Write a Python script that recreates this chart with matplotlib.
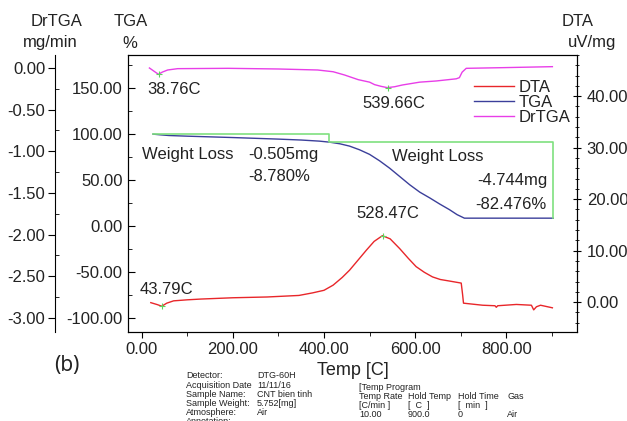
import numpy as np
import matplotlib.pyplot as plt
from matplotlib.ticker import MultipleLocator, FormatStrFormatter

plt.rcParams['font.family'] = ['Liberation Sans', 'DejaVu Sans']

# --- data ---
dta_t = [20, 35, 44, 55, 70, 100, 130, 200, 275, 345, 375, 400, 420, 440, 456, 475,
         493, 510, 528, 545, 566, 585, 602, 620, 638, 655, 675, 701, 704, 706, 748,
         775, 778, 781, 822, 855, 860, 866, 875, 901]
dta_v = [-0.1, -0.5, -0.8, -0.2, 0.25, 0.45, 0.6, 0.85, 1.0, 1.3, 1.8, 2.3, 3.3, 4.8,
         6.2, 8.2, 10.1, 11.8, 12.9, 12.3, 10.4, 8.5, 6.9, 5.8, 4.9, 4.4, 4.1, 3.7,
         1.5, -0.2, -0.6, -0.7, -1.0, -0.7, -0.45, -0.6, -1.5, -0.9, -0.6, -1.1]

tga_t = [25, 40, 60, 100, 200, 300, 350, 390, 412, 435, 456, 478, 500, 522, 544, 566,
         588, 610, 632, 654, 675, 692, 708, 903]
tga_v = [100, 99.3, 98.5, 97.8, 96.3, 94.6, 93.6, 92.4, 91.3, 89.5, 87, 83, 78, 71,
         63, 54, 45, 37, 30.7, 24, 18, 12.5, 8.7, 8.7]

dr_t = [17, 30, 37, 45, 57, 79, 190, 300, 386, 420, 445, 475, 500, 511, 525, 539, 555,
        572, 610, 646, 690, 697, 703, 712, 792, 901]
dr_v = [0.0, -0.05, -0.076, -0.05, -0.024, -0.008, -0.004, -0.012, -0.024, -0.045,
        -0.084, -0.14, -0.17, -0.2, -0.22, -0.236, -0.225, -0.204, -0.17, -0.156,
        -0.13, -0.116, -0.05, -0.004, 0.004, 0.016]

step_t = [25, 412, 412, 903, 903]
step_v = [100, 100, 91.3, 91.3, 8.7]

peaks_dta = [(43.79, -0.8), (528.47, 12.9)]
peaks_dr = [(38.76, -0.076), (539.66, -0.236)]

fig = plt.figure(figsize=(6.27, 4.21), dpi=100)
W, H = 627., 421.
ax = fig.add_axes([128/W, 1-332/H, (577-128)/W, (332-55)/H])
ax_dta = ax.twinx()
ax_dr = ax.twinx()

txt = '#222222'
fs = 12

# TGA (host axis)
ax.plot(tga_t, tga_v, color='#3b3f9a', lw=1)
ax.plot(step_t, step_v, color='#7fe07f', lw=1.2)
ax.set_xlim(-30, 955)
ax.set_ylim(-115, 186)
ax.yaxis.set_major_locator(MultipleLocator(50))
ax.yaxis.set_minor_locator(MultipleLocator(25))
ax.xaxis.set_major_locator(MultipleLocator(200))
ax.xaxis.set_minor_locator(MultipleLocator(100))
ax.xaxis.set_major_formatter(FormatStrFormatter('%.2f'))
ax.yaxis.set_major_formatter(FormatStrFormatter('%.2f'))
ax.tick_params(axis='y', which='both', direction='in', labelsize=fs, labelcolor=txt, pad=4)
ax.tick_params(axis='y', which='major', length=5)
ax.tick_params(axis='y', which='minor', length=3)
ax.tick_params(axis='x', which='both', direction='out', labelsize=fs, labelcolor=txt)
ax.tick_params(axis='x', which='major', length=4)
ax.tick_params(axis='x', which='minor', length=3)
ax.set_xlabel('Temp [C]', fontsize=fs + 1, color=txt, labelpad=3)

# DTA (right axis)
l_dta, = ax_dta.plot(dta_t, dta_v, color='#e8262a', lw=1)
ax_dta.set_ylim(-5.8, 48)
ax_dta.yaxis.set_major_locator(MultipleLocator(10))
ax_dta.yaxis.set_minor_locator(MultipleLocator(2))
ax_dta.yaxis.set_major_formatter(FormatStrFormatter('%.2f'))
ax_dta.tick_params(axis='y', which='both', direction='inout', labelsize=fs, labelcolor=txt, pad=4)
ax_dta.tick_params(axis='y', which='major', length=6)
ax_dta.tick_params(axis='y', which='minor', length=3)

# DrTGA (outer left axis)
ax_dr.plot(dr_t, dr_v, color='#e83ee8', lw=1)
ax_dr.set_ylim(-3.17, 0.156)
ax_dr.spines['left'].set_position(('axes', (55-128)/449.))
ax_dr.spines['left'].set_visible(True)
for s in ['right', 'top', 'bottom']:
    ax_dr.spines[s].set_visible(False)
ax_dr.yaxis.set_label_position('left')
ax_dr.yaxis.set_ticks_position('left')
ax_dr.yaxis.set_major_locator(MultipleLocator(0.5))
ax_dr.yaxis.set_minor_locator(MultipleLocator(0.25))
ax_dr.yaxis.set_major_formatter(FormatStrFormatter('%.2f'))
ax_dr.tick_params(axis='y', which='major', direction='out', length=5, labelsize=fs, labelcolor=txt, pad=2)
ax_dr.tick_params(axis='y', which='minor', direction='in', length=3)

# green peak markers
for t, v in peaks_dta:
    ax_dta.plot(t, v, marker='+', color='#5fd35f', ms=5, mew=0.8)
for t, v in peaks_dr:
    ax_dr.plot(t, v, marker='+', color='#5fd35f', ms=5, mew=0.8)

# legend
l_tga, = ax.plot([], [], color='#3b3f9a', lw=1)
l_dr, = ax.plot([], [], color='#e83ee8', lw=1)
ax.legend([l_dta, l_tga, l_dr], ['DTA', 'TGA', 'DrTGA'], loc='upper left',
          bbox_to_anchor=((474-128)/449., 1-(80-55)/277.), frameon=False, fontsize=fs,
          handlelength=2.4, handletextpad=0.3, labelspacing=0.0, borderpad=0,
          borderaxespad=0, labelcolor=txt)

# annotations (figure pixel coordinates)
def ftext(x, y, s, size=fs, ha='left', **kw):
    fig.text(x/W, 1-y/H, s, fontsize=size, ha=ha, va='center', color=txt, **kw)

ftext(147, 89, '38.76C')
ftext(362, 104, '539.66C')
ftext(356, 214, '528.47C')
ftext(140, 290, '43.79C')
ftext(142, 154, 'Weight Loss')
ftext(248, 154, '-0.505mg')
ftext(248, 176, '-8.780%')
ftext(392, 157, 'Weight Loss')
ftext(547, 181, '-4.744mg', ha='right')
ftext(547, 204, '-82.476%', ha='right')

# header labels
ftext(57, 21, 'DrTGA', ha='center')
ftext(50, 43, 'mg/min', ha='center')
ftext(131, 21, 'TGA', ha='center')
ftext(130, 43, '%', ha='center')
ftext(578, 22, 'DTA', ha='center')
ftext(592, 43, 'uV/mg', ha='center')

ftext(54, 366, '(b)', size=15, weight='medium', family=['Noto Sans', 'DejaVu Sans'])

# footer
fsm = 6.5
rows_l = ['Detector:', 'Acquisition Date', 'Sample Name:', 'Sample Weight:', 'Atmosphere:', 'Annotation:']
rows_r = ['DTG-60H', '11/11/16', 'CNT bien tinh', '5.752[mg]', 'Air', '']
for i, (a, b) in enumerate(zip(rows_l, rows_r)):
    ftext(186, 376 + i*9.1, a, size=fsm)
    ftext(257, 376 + i*9.1, b, size=fsm)
prog = [['[Temp Program', '', '', ''],
        ['Temp Rate', 'Hold Temp', 'Hold Time', 'Gas'],
        ['[C/min ]', '[  C  ]', '[  min  ]', ''],
        ['10.00', '900.0', '0', 'Air']]
cols = [359, 408, 458, 507]
for i, row in enumerate(prog):
    for c, s in zip(cols, row):
        ftext(c, 387 + i*9.3, s, size=fsm)

fig.savefig('out.png', dpi=100)
